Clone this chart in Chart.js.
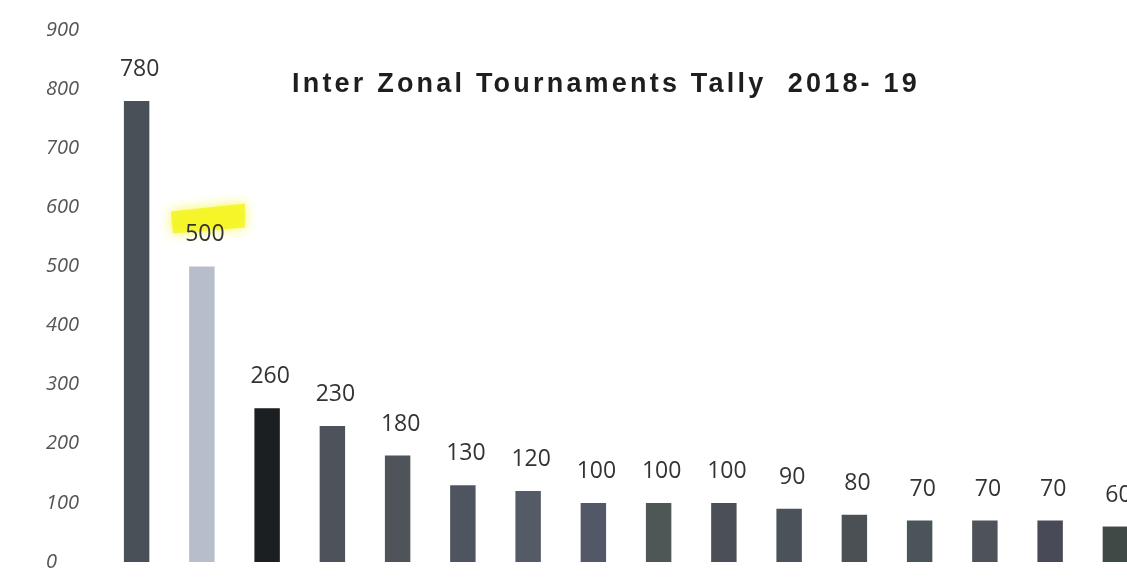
<!DOCTYPE html>
<html>
<head>
<meta charset="utf-8">
<script src="https://cdn.jsdelivr.net/npm/chart.js@4/dist/chart.umd.min.js"></script>
<style>
  html, body { margin: 0; padding: 0; background: #fff; overflow: hidden; }
  #wrap { position: relative; width: 1150px; height: 578px; }
  #title {
    position: absolute; left: 292px; top: 68px;
    font-family: "Liberation Sans", Arial, sans-serif; font-weight: bold;
    font-size: 27px; letter-spacing: 3.2px; color: #1e1e1e; white-space: pre;
  }
</style>
</head>
<body>
<div id="wrap">
  <canvas id="c" width="1150" height="578"></canvas>
  <div id="title"></div>
</div>
<script>
// ---- data ----
const chartTitle = "Inter Zonal Tournaments Tally  2018- 19";
const categories = ["1","2","3","4","5","6","7","8","9","10","11","12","13","14","15","16"];
const values = [780, 500, 260, 230, 180, 130, 120, 100, 100, 100, 90, 80, 70, 70, 70, 60];
const barColors = ["#4a5057", "#b8bdcb", "#1b1f21", "#4d525b", "#4f535a", "#4e5560", "#545a66",
                   "#525868", "#4e5656", "#4a4f58", "#4b525a", "#4a5053", "#4b5459", "#4d5359", "#484a58", "#3f4a47"];
const yTicks = [0, 100, 200, 300, 400, 500, 600, 700, 800, 900];
const highlighted = [1];

document.getElementById('title').textContent = chartTitle;

const labelPlugin = {
  id: 'valueLabels',
  afterDatasetsDraw(chart) {
    const ctx = chart.ctx;
    const meta = chart.getDatasetMeta(0);
    ctx.save();
    meta.data.forEach((bar, i) => {
      const x = bar.x + 3;
      const y = bar.y - 25;
      if (highlighted.includes(i)) {
        ctx.save();
        ctx.fillStyle = 'rgba(245,245,30,0.85)';
        ctx.shadowColor = 'rgba(245,245,30,0.9)';
        ctx.shadowBlur = 12;
        ctx.beginPath();
        ctx.moveTo(x - 34, y - 30);
        ctx.lineTo(x + 40, y - 38);
        ctx.lineTo(x + 40, y - 14);
        ctx.lineTo(x - 32, y - 8);
        ctx.closePath();
        ctx.fill();
        ctx.restore();
      }
      ctx.fillStyle = '#333';
      ctx.font = '23px "Open Sans", sans-serif';
      ctx.textAlign = 'center';
      ctx.textBaseline = 'alphabetic';
      ctx.fillText(String(values[i]), x, y);
    });
    ctx.restore();
  }
};

new Chart(document.getElementById('c'), {
  type: 'bar',
  data: {
    labels: categories,
    datasets: [{
      data: values,
      backgroundColor: barColors,
      borderWidth: 0,
      barPercentage: 0.78,
      categoryPercentage: 0.5
    }]
  },
  options: {
    responsive: false,
    animation: false,
    layout: { padding: { top: 30, bottom: 16, right: 2, left: 46 } },
    plugins: { legend: { display: false }, tooltip: { enabled: false }, title: { display: false } },
    scales: {
      x: { display: false },
      y: {
        min: 0, max: 900,
        afterFit(scale) { scale.width = 58; },
        afterBuildTicks(scale) { scale.ticks = yTicks.map(v => ({ value: v })); },
        border: { display: false },
        grid: { display: false, drawTicks: false },
        ticks: {
          color: '#555',
          padding: 0,
          crossAlign: 'far',
          font: { family: '"Open Sans", sans-serif', size: 20, style: 'italic' }
        }
      }
    }
  },
  plugins: [labelPlugin]
});
</script>
</body>
</html>
